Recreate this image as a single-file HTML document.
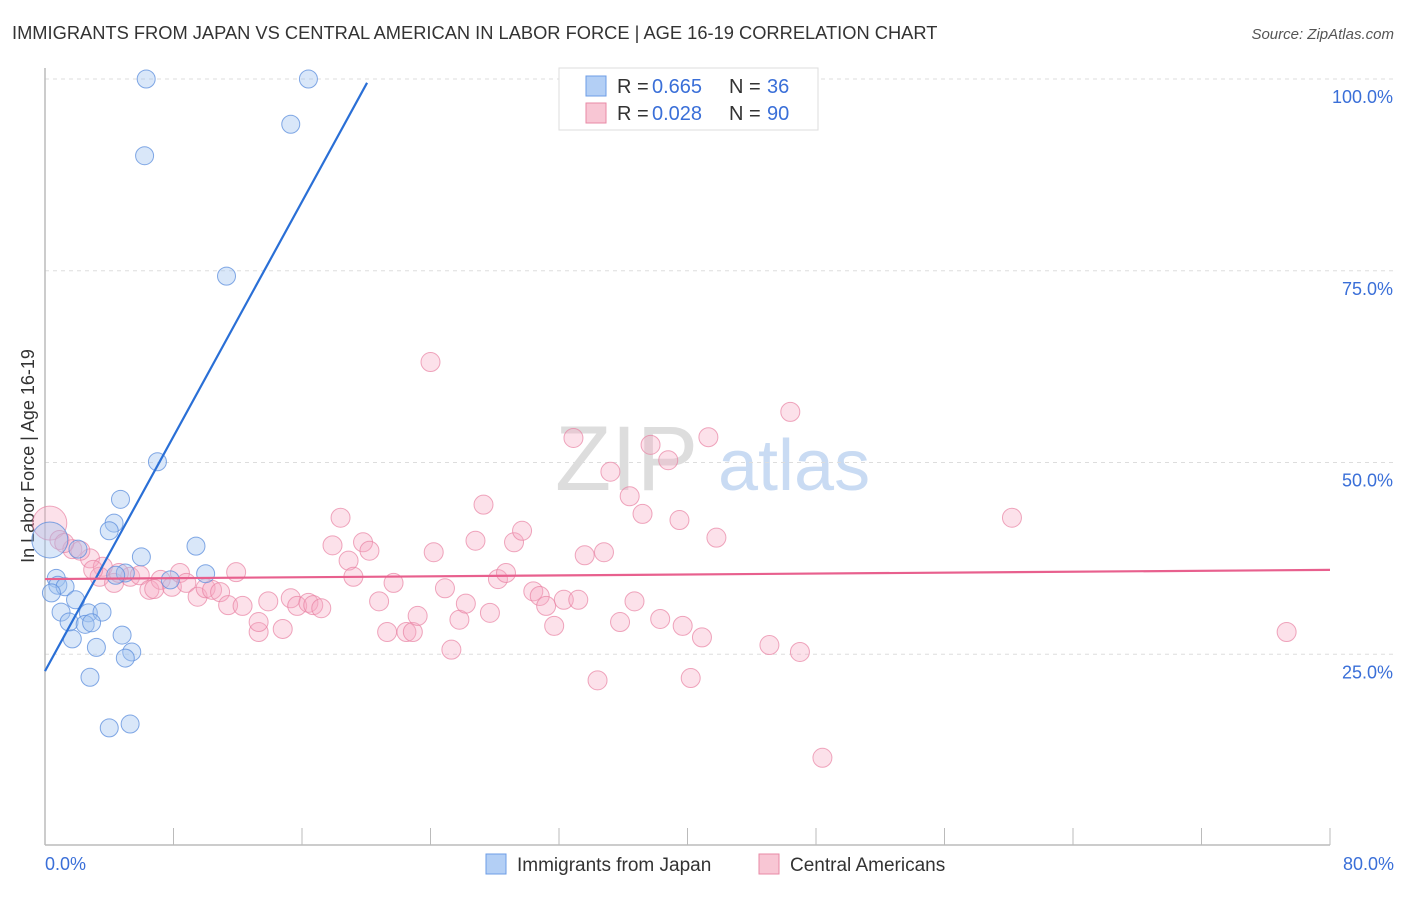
<!DOCTYPE html>
<html><head><meta charset="utf-8"><style>
body{margin:0;background:#fff;font-family:"Liberation Sans",sans-serif;}
svg text{font-family:"Liberation Sans",sans-serif;}
</style></head><body>
<svg id="chart" width="1406" height="892" xmlns="http://www.w3.org/2000/svg">
<text x="12" y="39" font-size="18.3" fill="#333">IMMIGRANTS FROM JAPAN VS CENTRAL AMERICAN IN LABOR FORCE | AGE 16-19 CORRELATION CHART</text>
<text x="1394" y="39" font-size="15" fill="#555" text-anchor="end" font-style="italic">Source: ZipAtlas.com</text>
<g>
<text x="555" y="490" font-size="92" fill="#ddd" font-family="Liberation Serif, serif">ZIP</text>
<text x="718" y="490" font-size="72" fill="#c9dbf3">atlas</text>
</g>
<g id="grid"></g>
<line x1="45" y1="68" x2="45" y2="845" stroke="#bbb" stroke-width="1.5"/>
<line x1="45" y1="845" x2="1330" y2="845" stroke="#bbb" stroke-width="1.5"/>
<g id="xticks"></g>
<text transform="translate(34,456) rotate(-90)" font-size="18" fill="#333" text-anchor="middle">In Labor Force | Age 16-19</text>
<text x="45" y="870" font-size="18" fill="#3a6fd8">0.0%</text>
<text x="1394" y="870" font-size="18" fill="#3a6fd8" text-anchor="end">80.0%</text>
<g id="pinkpts"></g>
<g id="bluepts"></g>
<g id="lines"></g>
<g>
<rect x="559" y="68" width="259" height="62" fill="#fff" stroke="#ddd"/>
<rect x="586" y="76" width="20" height="20" fill="#b3cff5" stroke="#6d9ce6"/>
<rect x="586" y="103" width="20" height="20" fill="#f8c6d4" stroke="#e88aa6"/>
<text x="617" y="93" font-size="20" fill="#333">R =</text>
<text x="652" y="93" font-size="20" fill="#3a6fd8">0.665</text>
<text x="729" y="93" font-size="20" fill="#333">N =</text>
<text x="767" y="93" font-size="20" fill="#3a6fd8">36</text>
<text x="617" y="120" font-size="20" fill="#333">R =</text>
<text x="652" y="120" font-size="20" fill="#3a6fd8">0.028</text>
<text x="729" y="120" font-size="20" fill="#333">N =</text>
<text x="767" y="120" font-size="20" fill="#3a6fd8">90</text>
</g>
<g>
<rect x="486" y="854" width="20" height="20" fill="#b3cff5" stroke="#6d9ce6"/>
<text x="517" y="871" font-size="19" fill="#333">Immigrants from Japan</text>
<rect x="759" y="854" width="20" height="20" fill="#f8c6d4" stroke="#e88aa6"/>
<text x="790" y="871" font-size="19" fill="#333">Central Americans</text>
</g>
</svg>
<script>
const yTicks=[25,50,75,100];
const yTickLabels=["25.0%","50.0%","75.0%","100.0%"];
const xTickVals=[0,8,16,24,32,40,48,56,64,72,80];
const blueX=[6.3,16.4,15.3,6.2,11.3,7.0,4.7,4.3,4.0,0.3,6.0,9.4,2.05,0.7,0.8,1.25,0.4,5.0,7.8,10.0,1.9,1.0,2.7,3.55,1.5,2.5,2.9,4.8,3.2,1.7,5.4,5.0,2.8,4.0,5.3,4.4];
const blueY=[100,100,94.1,90,74.3,50.1,45.2,42.1,41.1,39.9,37.7,39.1,38.7,34.9,34.0,33.8,33.0,35.6,34.7,35.5,32.1,30.5,30.4,30.5,29.2,28.9,29.1,27.5,25.9,27.0,25.3,24.5,22.0,15.4,15.9,35.3];
const pinkX=[0.3,0.9,1.7,2.8,3.6,3.4,4.3,5.3,5.9,6.5,7.2,7.9,8.4,8.8,9.5,10.0,10.4,10.9,11.4,11.9,12.3,13.3,13.3,13.9,14.8,15.3,15.7,16.4,16.7,17.2,18.4,17.9,18.9,19.2,19.8,20.2,20.8,21.3,21.7,22.5,22.9,23.2,24.0,24.2,24.9,25.3,25.8,26.2,26.8,27.3,27.7,28.2,28.7,29.2,29.7,30.4,30.8,31.2,31.7,32.3,32.9,33.2,33.6,34.4,34.8,35.2,35.8,36.4,36.7,37.2,37.7,38.3,38.8,39.7,39.5,40.2,40.9,41.3,41.8,45.1,46.4,47.0,48.4,60.2,77.3,2.2,4.6,1.2,3.0,6.8];
const pinkY=[42.1,39.9,38.7,37.5,36.4,35.1,34.3,35.1,35.3,33.4,34.7,33.8,35.6,34.3,32.5,33.6,33.4,33.1,31.4,35.7,31.3,27.9,29.2,31.9,28.3,32.3,31.3,31.7,31.4,31.0,42.8,39.2,37.2,35.1,39.6,38.5,31.9,27.9,34.3,27.9,27.9,30.0,63.1,38.3,33.6,25.6,29.5,31.6,39.8,44.5,30.4,34.8,35.6,39.6,41.1,33.2,32.6,31.3,28.7,32.1,53.2,32.1,37.9,21.6,38.3,48.8,29.2,45.6,31.9,43.3,52.3,29.6,50.3,28.7,42.5,21.9,27.2,53.3,40.2,26.2,56.6,25.3,11.5,42.8,27.9,38.5,35.6,39.5,36.0,33.5];
const blueLine=[[0,22.8],[20.05,99.5]];
const pinkLine=[[0,34.8],[80,36.0]];
const NS="http://www.w3.org/2000/svg";
const sx=v=>45+v/80*1285;
const sy=v=>846-v*7.67;
function mk(tag,attrs,parent){const e=document.createElementNS(NS,tag);for(const k in attrs)e.setAttribute(k,attrs[k]);parent.appendChild(e);return e;}
const grid=document.getElementById('grid');
yTicks.forEach((t,i)=>{
 const l=mk('line',{x1:45,x2:1393,y1:sy(t),y2:sy(t),stroke:'#ddd','stroke-dasharray':'4,4'},grid);
 
 
 const tx=mk('text',{x:1393,y:sy(t)+24,'font-size':18,fill:'#3a6fd8','text-anchor':'end'},grid);
 tx.textContent=yTickLabels[i];
 
 
});
const xt=document.getElementById('xticks');
xTickVals.forEach(v=>{
 const l=mk('line',{x1:sx(v),x2:sx(v),y1:828,y2:845,stroke:'#bbb'},xt);
 
 
});
const pg=document.getElementById('pinkpts');
pinkX.forEach((x,i)=>{
 const c=mk('circle',{cx:sx(x),cy:sy(pinkY[i]),r:i===0?17:9.5,fill:'rgba(246,170,194,0.35)',stroke:'rgba(232,130,162,0.7)'},pg);
 
 
});
const bg=document.getElementById('bluepts');
blueX.forEach((x,i)=>{
 const c=mk('circle',{cx:sx(x),cy:sy(blueY[i]),r:i===9?18:9,fill:'rgba(160,196,240,0.4)',stroke:'rgba(90,140,220,0.75)'},bg);
 
 
});
const lg=document.getElementById('lines');
const bl=mk('line',{x1:sx(blueLine[0][0]),y1:sy(blueLine[0][1]),x2:sx(blueLine[1][0]),y2:sy(blueLine[1][1]),stroke:'#2a6fd6','stroke-width':2.2},lg);


const pl=mk('line',{x1:sx(pinkLine[0][0]),y1:sy(pinkLine[0][1]),x2:sx(pinkLine[1][0]),y2:sy(pinkLine[1][1]),stroke:'#e8608e','stroke-width':2.2},lg);


</script>
</body></html>
